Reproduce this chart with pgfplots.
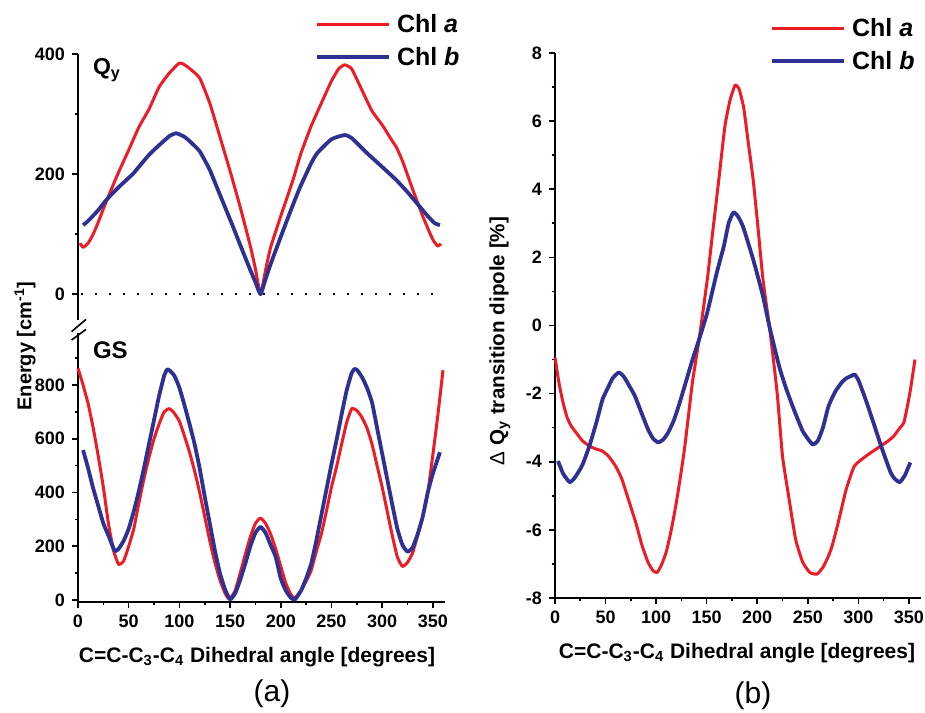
\documentclass[border=0pt]{standalone}
\usepackage{fontspec}
\setmainfont{Liberation Sans}
\usepackage{pgfplots}
\pgfplotsset{compat=1.18}
\definecolor{chla}{RGB}{237,28,36}
\definecolor{chlb}{RGB}{46,49,146}
\pgfplotsset{
  myax/.style={
    scale only axis, clip=false,
    tick align=outside,
    axis line style={line width=0.9pt,-},
    major tick length=3pt, minor tick length=1.7pt,
    every tick/.style={black, line width=0.8pt},
    tick label style={font=\bfseries\fontsize{9}{10}\selectfont},
    /pgf/number format/assume math mode=true,
    legend cell align=left,
    legend image code/.code={\draw[##1] (0pt,0pt) -- (36pt,0pt);},
  },
  lega/.style={chla, line width=1.5pt, line join=round, smooth, tension=0.3},
  legb/.style={chlb, line width=1.9pt, line join=round, smooth, tension=0.3},
  myleg/.style={draw=none, fill=none, inner sep=0pt,
    font=\bfseries\fontsize{12.5}{14}\selectfont, row sep=4.5pt,
    nodes={inner sep=1pt, text height=9pt, text depth=1pt},
    /tikz/every odd column/.append style={column sep=2pt}},
}
\begin{document}
\begin{tikzpicture}
\useasboundingbox (0,0) rectangle (462.5pt,356pt);

% (a) top: Qy
\begin{axis}[myax, at={(39pt,196pt)}, anchor=south west,
  width=183.5pt, height=133pt,
  xmin=0, xmax=362, ymin=-43, ymax=400,
  hide x axis, axis y line*=left,
  ytick={0,200,400}, minor ytick={100,300},
  legend style={myleg, at={(1.046,1.158)}, anchor=north east}]
\addplot[lega] coordinates {
(2,85) (5,78) (10,85) (15,100) (20,120) (25,142) (30,163) (40,203) (50,240)
(60,278) (70,308) (80,345) (90,368) (100,385) (105,382) (110,376) (120,360)
(130,318) (140,262) (150,205) (160,145) (170,80) (175,42) (180,0)
(185,40) (190,78) (200,130) (212,190) (220,235) (230,280) (240,318)
(250,355) (257,375) (263,382) (270,375) (280,340) (290,305) (300,282)
(310,255) (314,245) (320,222) (330,175) (334,157) (340,130) (347,102)
(351,88) (355,80) (358,84)};
\addlegendentry{Chl \textit{a}}
\addplot[legb] coordinates {
(5,115) (10,122) (20,140) (28,157) (40,178) (54,200) (60,212) (70,232)
(78,245) (90,263) (97,268) (105,262) (110,255) (120,238) (130,207)
(137,178) (145,145) (153,112) (160,82) (170,40) (175,20) (180,0)
(185,25) (190,50) (201,100) (210,140) (219,178) (230,218) (236,235)
(250,258) (263,265) (270,260) (285,235) (300,212) (314,190) (325,170)
(334,152) (345,130) (352,118) (357,115)};
\addlegendentry{Chl \textit{b}}
\addplot[black, line width=1pt, dash pattern=on 0.8pt off 6.2pt, forget plot]
  coordinates {(3,0) (362,0)};
\end{axis}

% (a) bottom: GS
\begin{axis}[myax, at={(39pt,55pt)}, anchor=south west,
  width=183.5pt, height=134.5pt,
  xmin=0, xmax=362, ymin=-7.4, ymax=993.5,
  axis x line*=bottom, axis y line*=left,
  xtick={0,50,...,350}, minor xtick={25,75,...,325},
  ytick={0,200,...,800}, minor ytick={100,300,...,900}]
\addplot[lega] coordinates {
(0,862) (5,800) (10,730) (15,640) (20,535) (25,420) (30,285) (35,185)
(40,133) (45,145) (50,200) (55,265) (60,360) (65,450) (70,530) (75,600)
(80,655) (85,700) (90,712) (95,695) (100,665) (105,610) (110,550)
(115,480) (120,400) (125,310) (130,220) (135,140) (140,74) (145,25)
(148,7) (150,5) (155,35) (160,100) (165,170) (170,235) (175,285)
(180,305) (185,285) (190,245) (195,190) (200,125) (205,62) (210,20)
(214,7) (220,35) (225,70) (230,110) (235,180) (240,245) (245,330)
(250,420) (255,495) (260,580) (265,660) (270,712) (275,705) (280,680)
(285,640) (290,580) (295,500) (300,420) (305,330) (310,240) (315,160)
(320,125) (325,140) (330,175) (335,240) (340,310) (345,400) (350,540)
(355,690) (360,855)};
\addplot[legb] coordinates {
(5,558) (10,490) (15,415) (20,350) (25,285) (30,240) (35,192) (37,182)
(40,190) (45,220) (50,265) (55,330) (60,405) (65,490) (70,580) (75,670)
(80,760) (85,835) (88,858) (90,855) (95,835) (100,790) (105,725)
(110,655) (115,580) (120,490) (125,385) (130,285) (135,185) (140,100)
(145,40) (150,2) (155,25) (160,75) (165,135) (170,200) (175,250)
(180,272) (185,250) (190,205) (195,160) (200,80) (205,35) (210,8)
(214,2) (220,35) (225,80) (230,135) (235,220) (240,315) (245,410)
(250,505) (255,595) (260,690) (265,780) (270,845) (273,860) (275,857)
(280,830) (285,790) (290,735) (295,640) (300,545) (305,450) (310,355)
(315,265) (320,205) (325,180) (330,195) (335,245) (340,310) (345,400)
(350,470) (357,550)};
\end{axis}

% (b)
\begin{axis}[myax, at={(277.5pt,57pt)}, anchor=south west,
  width=183pt, height=272.5pt,
  xmin=0, xmax=362, ymin=-8, ymax=8,
  axis x line*=bottom, axis y line*=left,
  xtick={0,50,...,350}, minor xtick={25,75,...,325},
  ytick={-8,-6,...,8}, minor ytick={-7,-5,...,7},
  legend style={myleg, at={(0.989,1.068)}, anchor=north east}]
\addplot[lega] coordinates {
(0,-0.94) (4,-1.7) (8,-2.27) (12,-2.7) (16,-2.95) (21,-3.15) (27,-3.38)
(34,-3.54) (40,-3.62) (47,-3.69) (53,-3.84) (60,-4.13) (66,-4.5)
(72,-5.05) (80,-5.8) (86,-6.45) (92,-6.95) (97,-7.2) (101,-7.25)
(105,-7.05) (110,-6.65) (115,-6.0) (120,-5.2) (124,-4.45) (128,-3.64)
(132,-2.65) (136,-1.65) (142.5,-0.41) (150.6,1.35) (156,2.75) (162,4.28)
(168,5.84) (173,6.6) (178,7.05) (182,6.95) (186.6,6.4) (191,5.4)
(196,4.28) (201,2.8) (205.7,1.35) (212,-0.02) (216,-1.0) (220,-2.07)
(225,-3.83) (231,-5.0) (238,-6.28) (245,-6.95) (252,-7.25) (259,-7.3)
(265,-7.1) (270,-6.8) (274,-6.48) (280,-5.8) (288,-4.81) (296,-4.13)
(306,-3.87) (314,-3.7) (322,-3.54) (329,-3.4) (335,-3.25) (340,-3.05)
(345,-2.85) (349,-2.3) (352,-1.8) (356,-1.0)};
\addlegendentry{Chl \textit{a}}
\addplot[legb] coordinates {
(3,-3.98) (8,-4.35) (14.6,-4.6) (20,-4.45) (27,-4.1) (34,-3.54)
(41,-2.84) (47,-2.17) (52,-1.85) (57,-1.55) (63,-1.38) (68,-1.5)
(74,-1.8) (79,-2.07) (86,-2.6) (92,-3.05) (97,-3.32) (102,-3.43)
(107,-3.35) (112,-3.14) (118,-2.75) (124,-2.2) (130,-1.6) (136,-1.0)
(142.5,-0.41) (150.6,0.38) (160,1.55) (167,2.33) (171.7,3.0)
(176.5,3.32) (181,3.2) (186,2.9) (196,1.94) (205.7,0.86) (212,-0.02)
(221.6,-1.19) (228,-1.8) (235,-2.37) (245,-3.1) (254.6,-3.49)
(260,-3.38) (265,-3.0) (270.5,-2.37) (277,-1.95) (283.6,-1.67)
(288,-1.55) (293,-1.48) (296.4,-1.44) (300,-1.6) (306,-2.07) (311,-2.5)
(316,-2.95) (323.7,-3.64) (332,-4.32) (336,-4.5) (341,-4.6) (346,-4.4)
(351.5,-4.02)};
\addlegendentry{Chl \textit{b}}
\end{axis}

% axis break
\draw[line width=0.8pt] (35.8pt,190.2pt) -- (43pt,196.3pt);
\draw[line width=0.8pt] (35.8pt,186pt) -- (43pt,191.3pt);

% labels
\node[anchor=west, font=\bfseries\fontsize{11.5}{13}\selectfont] at (43pt,321pt) {Q\textsubscript{y}};
\node[anchor=west, font=\bfseries\fontsize{12}{14}\selectfont] at (43pt,181pt) {GS};
\node[rotate=90, font=\bfseries\fontsize{10}{12}\selectfont] at (12.5pt,183pt) {Energy [cm\textsuperscript{-1}]};
\node[rotate=90, font=\bfseries\fontsize{10.3}{12}\selectfont] at (250pt,185.5pt) {{\mdseries Δ} Q\textsubscript{y} transition dipole [\%]};
\node[font=\bfseries\fontsize{10.5}{12}\selectfont] at (128.5pt,27.5pt) {C=C-C\textsubscript{3}-C\textsubscript{4} Dihedral angle [degrees]};
\node[font=\bfseries\fontsize{10.5}{12}\selectfont] at (368.5pt,29.5pt) {C=C-C\textsubscript{3}-C\textsubscript{4} Dihedral angle [degrees]};
\node[font=\fontsize{15}{18}\selectfont] at (136pt,9pt) {(a)};
\node[font=\fontsize{15}{18}\selectfont] at (376.5pt,8pt) {(b)};
\end{tikzpicture}
\end{document}
